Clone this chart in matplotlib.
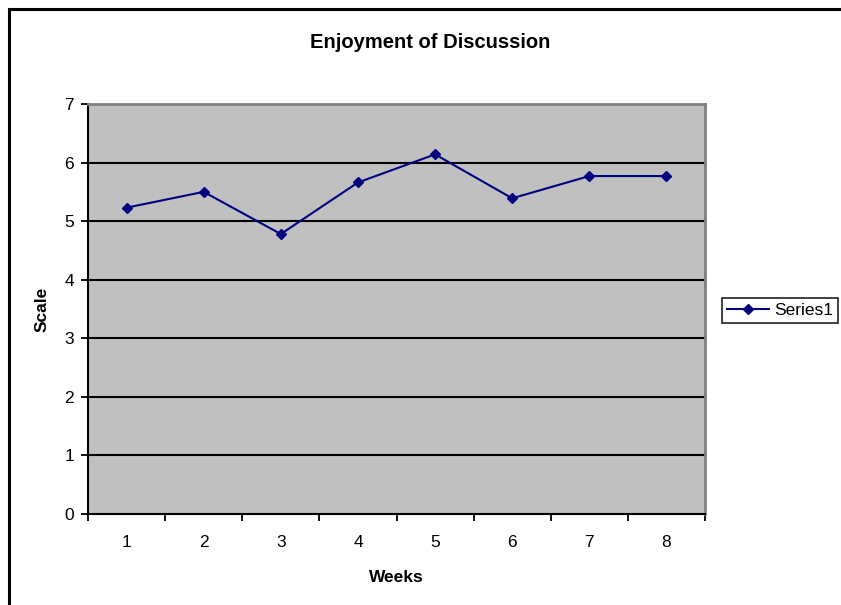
import matplotlib
matplotlib.use("Agg")
import matplotlib.pyplot as plt
from matplotlib.ticker import FixedLocator, NullFormatter

weeks = ["1", "2", "3", "4", "5", "6", "7", "8"]
scores = [5.23, 5.50, 4.78, 5.66, 6.14, 5.39, 5.77, 5.77]
y_ticks = [0, 1, 2, 3, 4, 5, 6, 7]

plt.rcParams["font.family"] = ["Liberation Sans", "DejaVu Sans"]

W, H = 841, 605
fig = plt.figure(figsize=(W / 100, H / 100), dpi=100)
fig.patch.set_facecolor("white")

# chart-area border (top and left edges visible)
fig.add_artist(plt.Line2D([9 / W, 9 / W], [0, 1 - 9 / H], transform=fig.transFigure,
                          color="black", lw=2.2, solid_capstyle="projecting"))
fig.add_artist(plt.Line2D([9 / W, 1], [1 - 9 / H, 1 - 9 / H], transform=fig.transFigure,
                          color="black", lw=2.2, solid_capstyle="projecting"))

left, right, top, bottom = 88, 705, 104, 514
ax = fig.add_axes([left / W, 1 - bottom / H, (right - left) / W, (bottom - top) / H])
ax.set_facecolor("#C0C0C0")

x = list(range(1, len(weeks) + 1))
line, = ax.plot(x, scores, color="#000080", lw=1.5, marker="D", markersize=5.5,
                markerfacecolor="#000080", markeredgecolor="#000080", label="Series1",
                zorder=3)

ax.set_xlim(0.5, len(weeks) + 0.5)
ax.set_ylim(0, 7)

# category labels centred, tick marks between categories
ax.xaxis.set_major_locator(FixedLocator([i + 0.5 for i in range(0, len(weeks) + 1)]))
ax.xaxis.set_major_formatter(NullFormatter())
ax.xaxis.set_minor_locator(FixedLocator(x))
ax.set_xticklabels(weeks, minor=True)
ax.tick_params(axis="x", which="major", direction="out", length=5, width=1.3, color="black")
ax.tick_params(axis="x", which="minor", length=0, pad=15, labelsize=12.5)

ax.set_yticks(y_ticks)
ax.set_yticklabels([str(v) for v in y_ticks])
ax.tick_params(axis="y", direction="out", length=5, width=1.3, color="black", pad=5,
               labelsize=12.5)

for v in y_ticks[1:-1]:
    ax.axhline(v, color="black", lw=1.5, zorder=1)

for s in ("top", "right"):
    ax.spines[s].set_color("#808080")
    ax.spines[s].set_linewidth(2)
for s in ("left", "bottom"):
    ax.spines[s].set_color("black")
    ax.spines[s].set_linewidth(1.5)

fig.text(430 / W, 1 - 42 / H, "Enjoyment of Discussion", ha="center", va="center",
         fontsize=14.5, fontweight="bold")
fig.text(396 / W, 1 - 577 / H, "Weeks", ha="center", va="center",
         fontsize=12.5, fontweight="bold")
fig.text(42 / W, 1 - 309 / H, "Scale", ha="center", va="center", rotation=90,
         fontsize=12.5, fontweight="bold")

leg = fig.legend(handles=[line], loc="center left",
                 bbox_to_anchor=(722 / W, 1 - 310.5 / H), frameon=True,
                 fancybox=False, fontsize=12.5, handlelength=2.4, handletextpad=0.3,
                 borderpad=0.3, borderaxespad=0)
leg.get_frame().set_edgecolor("black")
leg.get_frame().set_linewidth(1.3)

fig.savefig("out.png", dpi=100, facecolor="white")
